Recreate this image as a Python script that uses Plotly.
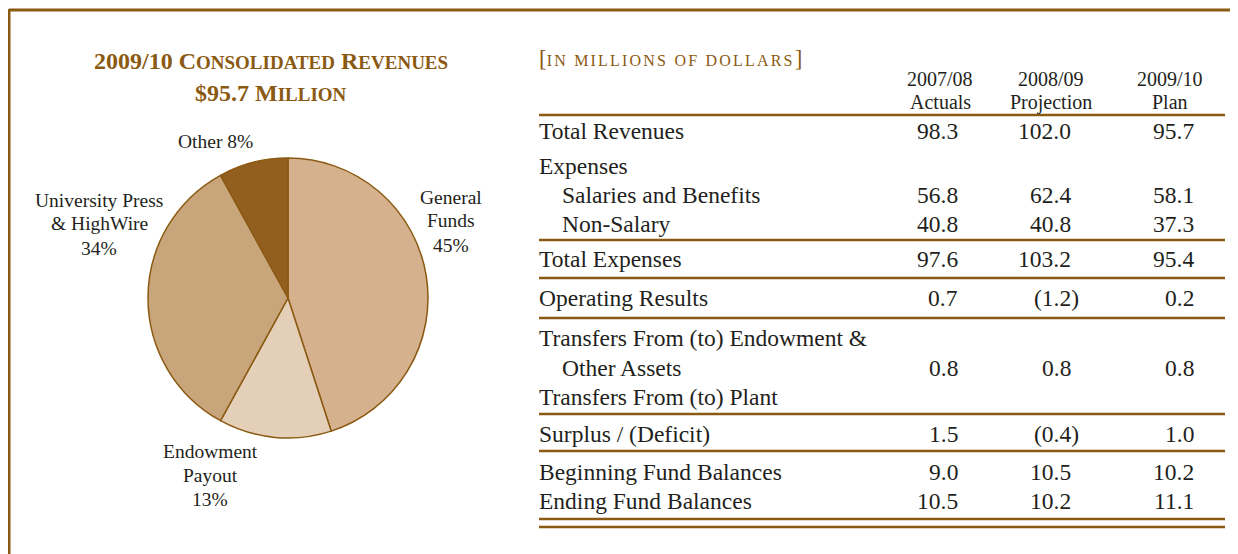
import plotly.graph_objects as go

# page body has an 8px margin: figure is drawn at (8, 8) in the window
OFF = 8
W, H = 1238 - OFF, 554 - OFF

# ---------------- data ----------------
pie_labels = ["General Funds", "Endowment Payout", "University Press & HighWire", "Other"]
pie_shares = [45, 13, 34, 8]
pie_label_lines = [["General", "Funds", "45%"], ["Endowment", "Payout", "13%"],
                   ["University Press", "& HighWire", "34%"], ["Other 8%"]]

col_header_top = ["2007/08", "2008/09", "2009/10"]
col_header_bottom = ["Actuals", "Projection", "Plan"]
row_labels = ["Total Revenues", "Expenses", "Salaries and Benefits", "Non-Salary",
              "Total Expenses", "Operating Results", "Transfers From (to) Endowment &",
              "Other Assets", "Transfers From (to) Plant", "Surplus / (Deficit)",
              "Beginning Fund Balances", "Ending Fund Balances"]
actuals = [98.3, None, 56.8, 40.8, 97.6, 0.7, None, 0.8, None, 1.5, 9.0, 10.5]
projection = [102.0, None, 62.4, 40.8, 103.2, -1.2, None, 0.8, None, -0.4, 10.5, 10.2]
plan = [95.7, None, 58.1, 37.3, 95.4, 0.2, None, 0.8, None, 1.0, 10.2, 11.1]
indented = [False, False, True, True, False, False, False, True, False, False, False, False]

# ---------------- styles / positions ----------------
BROWN = "#8B5A12"
TEXT = "#231F20"
SERIF = "Liberation Serif"
pie_colors = ["#D5B18D", "#E4D0B8", "#C9A57C", "#935F20"]

def px(x):
    return (x - OFF) / W

def py(y):
    return 1 - (y - OFF) / H

row_y = [131, 166, 195, 224, 259, 298, 338, 368, 397, 434, 472, 501]
rule_y = [115, 240, 278, 318, 414, 451, 519, 527]
col_right = [960, 1073, 1196]
col_center = [940, 1051, 1170]
label_x = 537
indent_px = 23
BODY = 23.5

cx, cy, r = 288, 298, 140

fig = go.Figure()
fig.add_trace(go.Pie(
    labels=pie_labels,
    values=pie_shares,
    sort=False,
    direction="clockwise",
    rotation=0,
    marker=dict(colors=pie_colors, line=dict(color=BROWN, width=1.5)),
    textinfo="none",
    hoverinfo="label+percent",
    showlegend=False,
    domain=dict(x=[px(cx - r), px(cx + r)], y=[py(cy + r), py(cy - r)]),
))

ann = []

# title
sc = lambda s: f"<span style='font-size:19px'>{s}</span>"
ann.append(dict(x=px(271), y=py(61), text="<b>2009/10 C" + sc("ONSOLIDATED") + " R" + sc("EVENUES") + "</b>",
                font=dict(family=SERIF, size=24, color=BROWN)))
ann.append(dict(x=px(271), y=py(93), text="<b>$95.7 M" + sc("ILLION") + "</b>",
                font=dict(family=SERIF, size=24, color=BROWN)))

# pie labels (one annotation per line for tight leading)
pie_label_pos = [(451, 197), (210, 451), (99, 200), (215, 141)]
for lines, (x, y) in zip(pie_label_lines, pie_label_pos):
    for k, t in enumerate(lines):
        ann.append(dict(x=px(x), y=py(y + 24 * k), text=t, font=dict(family=SERIF, size=19.5, color=TEXT)))

# units note
ann.append(dict(x=px(label_x), y=py(58), xanchor="left",
                text="<span style='font-size:23px'>[</span><span style='letter-spacing:2.2px'>IN MILLIONS OF DOLLARS</span><span style='font-size:23px'>]</span>",
                font=dict(family=SERIF, size=16, color=BROWN)))

# column headers
for t1, t2, x in zip(col_header_top, col_header_bottom, col_center):
    ann.append(dict(x=px(x), y=py(79), text=t1, font=dict(family=SERIF, size=20, color=TEXT)))
    ann.append(dict(x=px(x), y=py(102), text=t2, font=dict(family=SERIF, size=20, color=TEXT)))

def fmt(v):
    if v is None:
        return None
    return f"({abs(v):.1f})" if v < 0 else f"{v:.1f}"

for i, lab in enumerate(row_labels):
    x0 = label_x + (indent_px if indented[i] else 0)
    ann.append(dict(x=px(x0), y=py(row_y[i]), xanchor="left", text=lab,
                    font=dict(family=SERIF, size=BODY, color=TEXT)))
    for j, series in enumerate([actuals, projection, plan]):
        s = fmt(series[i])
        if s is None:
            continue
        xr = col_right[j] + (8 if series[i] < 0 else 0)
        ann.append(dict(x=px(xr), y=py(row_y[i]), xanchor="right", text=s,
                        font=dict(family=SERIF, size=BODY, color=TEXT)))

for a in ann:
    a.setdefault("xanchor", "center")
    a.update(xref="paper", yref="paper", yanchor="middle", showarrow=False)

shapes = []
for y in rule_y:
    shapes.append(dict(type="line", xref="paper", yref="paper", x0=px(539), x1=px(1225),
                       y0=py(y), y1=py(y), line=dict(color=BROWN, width=2.5)))
# frame
shapes.append(dict(type="line", xref="paper", yref="paper", x0=px(9), x1=1, y0=py(10), y1=py(10),
                   line=dict(color=BROWN, width=3)))
shapes.append(dict(type="line", xref="paper", yref="paper", x0=px(9), x1=px(9), y0=py(9), y1=0,
                   line=dict(color=BROWN, width=3)))

fig.update_layout(
    width=W, height=H,
    margin=dict(l=0, r=0, t=0, b=0),
    paper_bgcolor="white", plot_bgcolor="white",
    annotations=ann, shapes=shapes,
)
fig.write_html("out.html")
